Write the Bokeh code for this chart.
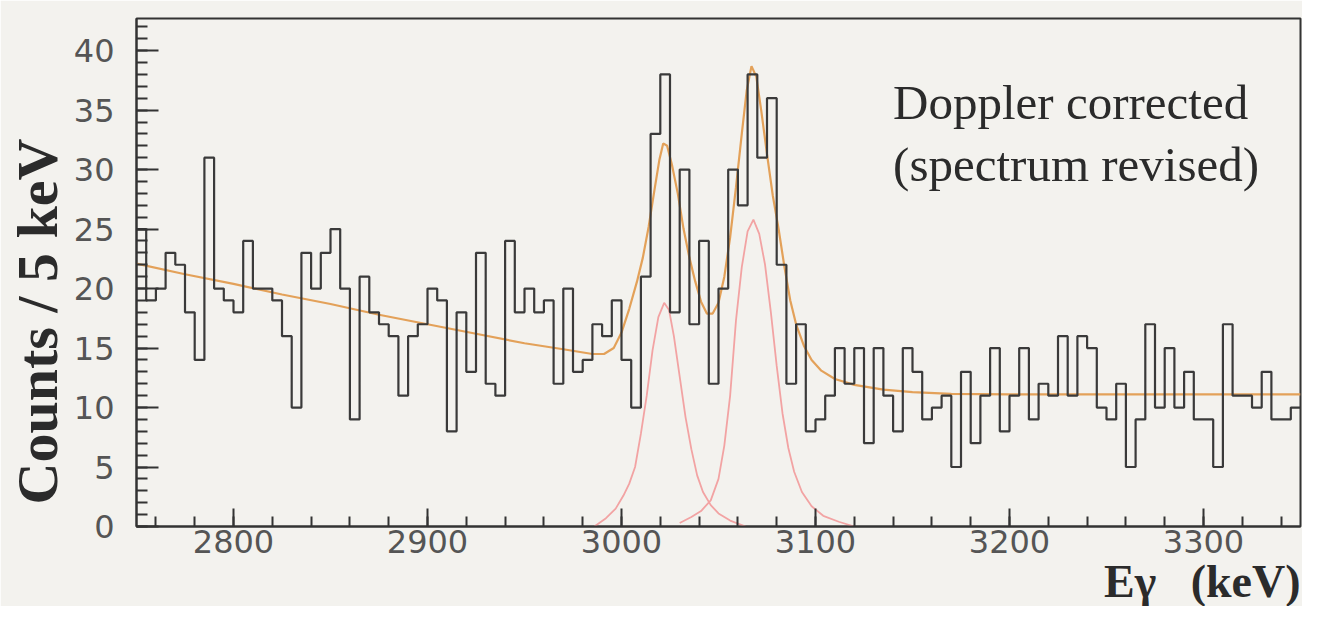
from bokeh.plotting import figure
from bokeh.models import Range1d, FixedTicker, Label, Title
from bokeh.embed import file_html
from bokeh.resources import INLINE

# ---- data ----
E_START = 2750          # keV, low edge of first bin
BIN_WIDTH = 5           # keV per bin
counts = [
    25, 19, 20, 23, 22, 18, 14, 31, 20, 19,
    18, 24, 20, 20, 19, 16, 10, 23, 20, 23,
    25, 20, 9, 21, 18, 17, 16, 11, 16, 17,
    20, 19, 8, 18, 13, 23, 12, 11, 24, 18,
    20, 18, 19, 12, 20, 13, 14, 17, 16, 19,
    14, 10, 21, 33, 38, 18, 30, 17, 24, 12,
    20, 30, 27, 38, 31, 36, 22, 12, 17, 8,
    9, 11, 15, 12, 15, 7, 15, 11, 8, 15,
    13, 9, 10, 11, 5, 13, 7, 11, 15, 8,
    11, 15, 9, 12, 11, 16, 11, 16, 15, 10,
    9, 12, 5, 9, 17, 10, 15, 10, 13, 9,
    9, 5, 17, 11, 11, 10, 13, 9, 9, 10,
]

# total fit (background + two peaks)
fit_E = [2750, 2775, 2800, 2825, 2850, 2875, 2900, 2925, 2950, 2970, 2985, 2991,
         2996, 3000, 3004, 3008, 3011, 3014, 3017, 3019.5, 3021.5, 3023.5, 3026,
         3029, 3032, 3035, 3038, 3041, 3044, 3047, 3050, 3053, 3056, 3059, 3062,
         3064.5, 3067, 3069.5, 3072, 3075, 3078, 3081, 3084, 3087, 3090, 3094,
         3098, 3103, 3110, 3120, 3135, 3150, 3170, 3200, 3250, 3300, 3350]
fit_y = [22.1, 21.2, 20.4, 19.5, 18.7, 17.8, 17.0, 16.2, 15.4, 14.9, 14.5, 14.5,
         15.0, 16.3, 18.3, 20.6, 22.6, 25.2, 28.3, 30.8, 32.2, 32.0, 30.4,
         28.0, 25.0, 22.6, 20.6, 18.9, 17.9, 17.9, 18.8, 21.0, 24.3, 28.5, 33.0,
         36.6, 38.7, 37.8, 35.0, 31.3, 27.8, 25.0, 21.8, 19.0, 17.0, 15.2,
         14.0, 13.1, 12.4, 11.9, 11.5, 11.3, 11.15, 11.1, 11.1, 11.1, 11.1]

# individual peak components (pink curves)
peak1_E = [2986, 2992, 2997, 3001, 3004, 3007, 3010, 3013, 3016, 3019, 3022, 3024.5,
           3027, 3030, 3033, 3036, 3039, 3042, 3046, 3050, 3056, 3064]
peak1_y = [0.0, 0.7, 1.5, 2.6, 3.6, 5.0, 7.8, 11.0, 14.8, 17.6, 18.8, 18.2,
           16.0, 12.6, 9.2, 6.5, 4.3, 2.9, 1.8, 1.1, 0.5, 0.0]
peak2_E = [3030, 3036, 3041, 3046, 3050, 3053, 3056, 3059, 3062, 3065, 3068, 3071,
           3074, 3077, 3080, 3083, 3086, 3089, 3093, 3098, 3104, 3112, 3120]
peak2_y = [0.3, 0.8, 1.3, 2.2, 4.0, 6.8, 11.0, 17.3, 21.8, 24.8, 25.8, 24.6,
           22.0, 18.0, 13.5, 9.5, 6.6, 4.6, 2.9, 1.7, 0.9, 0.4, 0.0]

x_major = [2800, 2900, 3000, 3100, 3200, 3300]
x_minor = list(range(2760, 3350, 20))
y_major = [0, 5, 10, 15, 20, 25, 30, 35, 40]
y_minor = list(range(0, 43))

X_MIN, X_MAX = 2750, 3350
Y_MIN, Y_MAX = 0, 42.7

# histogram step coordinates from bin edges
edges = [E_START + BIN_WIDTH * i for i in range(len(counts) + 1)]
step_y = counts + [counts[-1]]

BG = "#f3f2ee"
INK = "#333333"
TXT = "#2b2b2b"

p = figure(width=1302, height=606,
           x_range=Range1d(X_MIN, X_MAX), y_range=Range1d(Y_MIN, Y_MAX),
           output_backend="svg", toolbar_location=None,
           min_border_left=136, min_border_right=2,
           min_border_top=18, min_border_bottom=80)

p.background_fill_color = BG
p.border_fill_color = BG
p.outline_line_color = INK
p.outline_line_width = 2
p.xgrid.visible = False
p.ygrid.visible = False

for ax in (p.xaxis, p.yaxis):
    ax.axis_line_color = INK
    ax.axis_line_width = 2
    ax.major_tick_line_color = INK
    ax.minor_tick_line_color = INK
    ax.major_tick_line_width = 2
    ax.minor_tick_line_width = 2
    ax.major_tick_out = 0
    ax.minor_tick_out = 0
    ax.major_label_text_font = "DejaVu Sans"
    ax.major_label_text_font_size = "32px"
    ax.major_label_text_color = "#555555"

p.xaxis.ticker = FixedTicker(ticks=x_major, minor_ticks=x_minor)
p.yaxis.ticker = FixedTicker(ticks=y_major, minor_ticks=y_minor)
p.xaxis.major_tick_in = 18
p.xaxis.minor_tick_in = 10
p.yaxis.major_tick_in = 22
p.yaxis.minor_tick_in = 11
p.xaxis.major_label_standoff = 3
p.yaxis.major_label_standoff = 22

# fitted curves
p.line(peak1_E, peak1_y, line_color="#f2a3a3", line_width=1.8)
p.line(peak2_E, peak2_y, line_color="#f2a3a3", line_width=1.8)
p.line(fit_E, fit_y, line_color="#e3a159", line_width=2.2)

# histogram
p.step(edges, step_y, mode="after", line_color="#3a3a3a", line_width=2.2)

# texts inside the frame
p.add_layout(Label(x=3140, y=35.6, text="Doppler corrected",
                   text_font="Liberation Serif", text_font_size="49px",
                   text_color=TXT, text_align="left", text_baseline="middle"))
p.add_layout(Label(x=3140, y=30.4, text="(spectrum revised)",
                   text_font="Liberation Serif", text_font_size="49px",
                   text_color=TXT, text_align="left", text_baseline="middle"))

# axis titles as side-panel titles (not clipped by the frame)
p.add_layout(Title(text="Counts / 5 keV", align="left", offset=22, standoff=2,
                   text_font="Liberation Serif", text_font_size="58px",
                   text_font_style="bold", text_color=TXT), "left")
p.add_layout(Title(text="E\u03b3\u00a0\u00a0\u00a0(keV)", align="right", offset=0,
                   standoff=-4,
                   text_font="Liberation Serif", text_font_size="46px",
                   text_font_style="bold", text_color=TXT), "below")

open("out.html", "w").write(file_html(p, INLINE))
